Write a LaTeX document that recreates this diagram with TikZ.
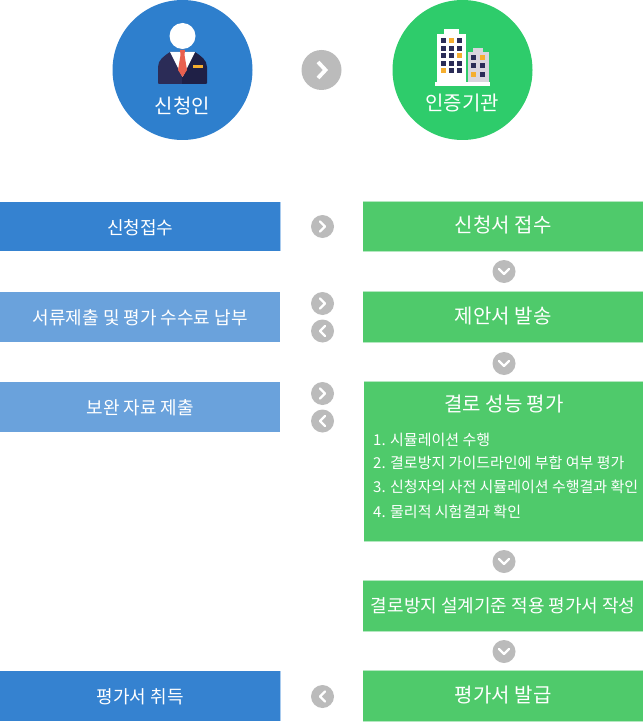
\documentclass[tikz,border=0pt]{standalone}
\usepackage{fontspec}
\setmainfont{Noto Sans CJK KR}[Scale=1]
\definecolor{bluecirc}{HTML}{2E7FCD}
\definecolor{greencirc}{HTML}{2ECC6B}
\definecolor{bluebox}{HTML}{3582D0}
\definecolor{lightbox}{HTML}{6AA2DC}
\definecolor{greenbox}{HTML}{4FCA6B}
\definecolor{paleg}{HTML}{B4E8C0}
\definecolor{paleb}{HTML}{A9CBEE}
\definecolor{badge}{HTML}{BBBBBB}
\definecolor{navy}{HTML}{2B2C57}
\definecolor{navyd}{HTML}{1F2046}
\definecolor{tie}{HTML}{E8604F}
\definecolor{gold}{HTML}{F5AE2F}
\definecolor{greyb}{HTML}{DAD5DE}
\tikzset{
  x=1pt,y=-1pt,
  bigcirc/.style={circle,minimum size=140pt,inner sep=0pt},
  flowbox/.style={rectangle,anchor=north west,inner sep=0pt,text=white,align=center},
  roundbadge/.style={circle,fill=badge,minimum size=23pt,inner sep=0pt},
  hugebadge/.style={circle,fill=badge,minimum size=40pt,inner sep=0pt},
  chev/.style={draw=white,line width=2.4pt,line cap=round,line join=round},
  chevbig/.style={draw=white,line width=3.8pt,line join=miter},
  win/.style={fill=navy},
  winy/.style={fill=gold},
  circlabel/.style={text=white,font=\fontsize{20}{24}\selectfont},
  leftfont/.style={font=\fontsize{18}{22}\selectfont,text height=16pt,text depth=1pt},
  rightfont/.style={font=\fontsize{20}{24}\selectfont,text height=14pt,text depth=2.4pt},
  longfont/.style={font=\fontsize{18}{22}\selectfont,text height=14pt,text depth=1pt},
  itemfont/.style={text=white,anchor=west,inner sep=0pt,font=\fontsize{15}{18}\selectfont},
  edgeg/.style={draw=paleg,line width=1pt},
  edgeb/.style={draw=paleb,line width=1pt},
}
\newcommand{\chevright}[1]{\draw[chev] ([shift={(-2.5,-5)}]#1.center) -- ++(5,5) -- ++(-5,5);}
\newcommand{\chevleft}[1]{\draw[chev] ([shift={(2.5,-5)}]#1.center) -- ++(-5,5) -- ++(5,5);}
\newcommand{\chevdown}[1]{\draw[chev] ([shift={(-5,-2.5)}]#1.center) -- ++(5,5) -- ++(5,-5);}
\newcommand{\paleedges}[1]{\draw[edgeg] ([yshift=0.5pt]#1.north west) -- ([yshift=0.5pt]#1.north east); \draw[edgeg] ([yshift=-0.5pt]#1.south west) -- ([yshift=-0.5pt]#1.south east);}
\begin{document}
\begin{tikzpicture}
\useasboundingbox (0,0) rectangle (644,722);
% circles
\node[bigcirc,fill=bluecirc] (client) at (182.5,70) {};
\node[bigcirc,fill=greencirc] (agency) at (462.5,70) {};
\node[hugebadge] (top) at (321.5,70) {};
\draw[chevbig] ([shift={(-3.5,-8)}]top.center) -- ++(7.5,8) -- ++(-7.5,8);
% person
\fill[navy] (158,83) -- (158,67) .. controls (158,60) and (164,56) .. (170,52) -- (182,52) -- (182,84) -- (160,84) .. controls (158.5,84) and (158,83.5) .. (158,83) -- cycle;
\fill[navyd] (207,83) -- (207,67) .. controls (207,60) and (201,56) .. (195,52) -- (182,52) -- (182,84) -- (205,84) .. controls (206.5,84) and (207,83.5) .. (207,83) -- cycle;
\fill[white] (170,52) -- (195,52) -- (182.5,77) -- cycle;
\fill[tie] (180,50) -- (185,50) -- (184.5,55) -- (187,70) -- (182.5,77) -- (178,70) -- (180.5,55) -- cycle;
\fill[gold] (192.5,65) rectangle (202.5,68.5);
\fill[white] (182.5,36) circle (13);
% buildings
\fill[white] (444,29) rectangle (459,35);
\fill[white] (437,34) rectangle (466,83);
\fill[white] (435,82) rectangle (490,86);
\fill[greyb] (472.7,48) rectangle (483,52);
\fill[greyb] (467.7,52) rectangle (489,82);
\foreach \wx in {440.7,449,457.3}{\foreach \wy in {38,45.7,53.3,61,68.3}{\fill[win] (\wx,\wy) rectangle +(5,5);}}
\fill[winy] (449,38) rectangle +(5,5);
\fill[winy] (457.3,53.3) rectangle +(5,5);
\fill[winy] (440.7,68.3) rectangle +(5,5);
\foreach \wx in {470.7,480}{\foreach \wy in {55,63,72}{\fill[win] (\wx,\wy) rectangle +(5.3,5.3);}}
\fill[winy] (480,55) rectangle +(5.3,5.3);
\fill[winy] (470.7,72) rectangle +(5.3,5.3);
\node[circlabel] (clientlabel) at (182.5,106) {신청인};
\node[circlabel] (agencylabel) at (462,103) {인증기관};
% left boxes
\node[flowbox,fill=bluebox,minimum width=280pt,minimum height=49pt,leftfont] (l1) at (0,202) {신청접수};
\node[flowbox,fill=lightbox,minimum width=280pt,minimum height=50pt,leftfont] (l2) at (0,292) {서류제출 및 평가 수수료 납부};
\node[flowbox,fill=lightbox,minimum width=280pt,minimum height=50pt,leftfont] (l3) at (0,382) {보완 자료 제출};
\node[flowbox,fill=bluebox,minimum width=280pt,minimum height=50pt,leftfont] (l4) at (0,671) {평가서 취득};
\draw[edgeb] ([xshift=0.5pt]l1.north east) -- ([xshift=0.5pt]l1.south east);
\draw[edgeb] ([xshift=0.5pt]l4.north east) -- ([xshift=0.5pt]l4.south east);
% right boxes
\node[flowbox,fill=greenbox,minimum width=280pt,minimum height=49pt,rightfont] (r1) at (363,202) {신청서 접수};
\node[flowbox,fill=greenbox,minimum width=280pt,minimum height=50pt,rightfont] (r2) at (363,292) {제안서 발송};
\node[flowbox,fill=greenbox,minimum width=279pt,minimum height=159pt] (r3) at (364,382) {};
\node[text=white,rightfont] (r3title) at (504,406) {결로 성능 평가};
\node[itemfont] (i1) at (373,440) {1. 시뮬레이션 수행};
\node[itemfont] (i2) at (373,463) {2. 결로방지 가이드라인에 부합 여부 평가};
\node[itemfont] (i3) at (373,487) {3. 신청자의 사전 시뮬레이션 수행결과 확인};
\node[itemfont] (i4) at (373,511.5) {4. 물리적 시험결과 확인};
\node[flowbox,fill=greenbox,minimum width=280pt,minimum height=50pt,longfont] (r4) at (363,581) {결로방지 설계기준 적용 평가서 작성};
\node[flowbox,fill=greenbox,minimum width=280pt,minimum height=50pt,rightfont] (r5) at (363,671) {평가서 발급};
\paleedges{r1}\paleedges{r2}\paleedges{r3}\paleedges{r4}\paleedges{r5}
% badges
\node[roundbadge] (a1) at (322.5,226.5) {}; \chevright{a1}
\node[roundbadge] (a2) at (322.5,303.5) {}; \chevright{a2}
\node[roundbadge] (a3) at (322.5,331) {}; \chevleft{a3}
\node[roundbadge] (a4) at (322.5,393.5) {}; \chevright{a4}
\node[roundbadge] (a5) at (322.5,421) {}; \chevleft{a5}
\node[roundbadge] (a6) at (322.5,696.5) {}; \chevleft{a6}
\node[roundbadge] (d1) at (504,271.5) {}; \chevdown{d1}
\node[roundbadge] (d2) at (504,363.5) {}; \chevdown{d2}
\node[roundbadge] (d3) at (504,561.5) {}; \chevdown{d3}
\node[roundbadge] (d4) at (504,651.5) {}; \chevdown{d4}
\end{tikzpicture}
\end{document}
